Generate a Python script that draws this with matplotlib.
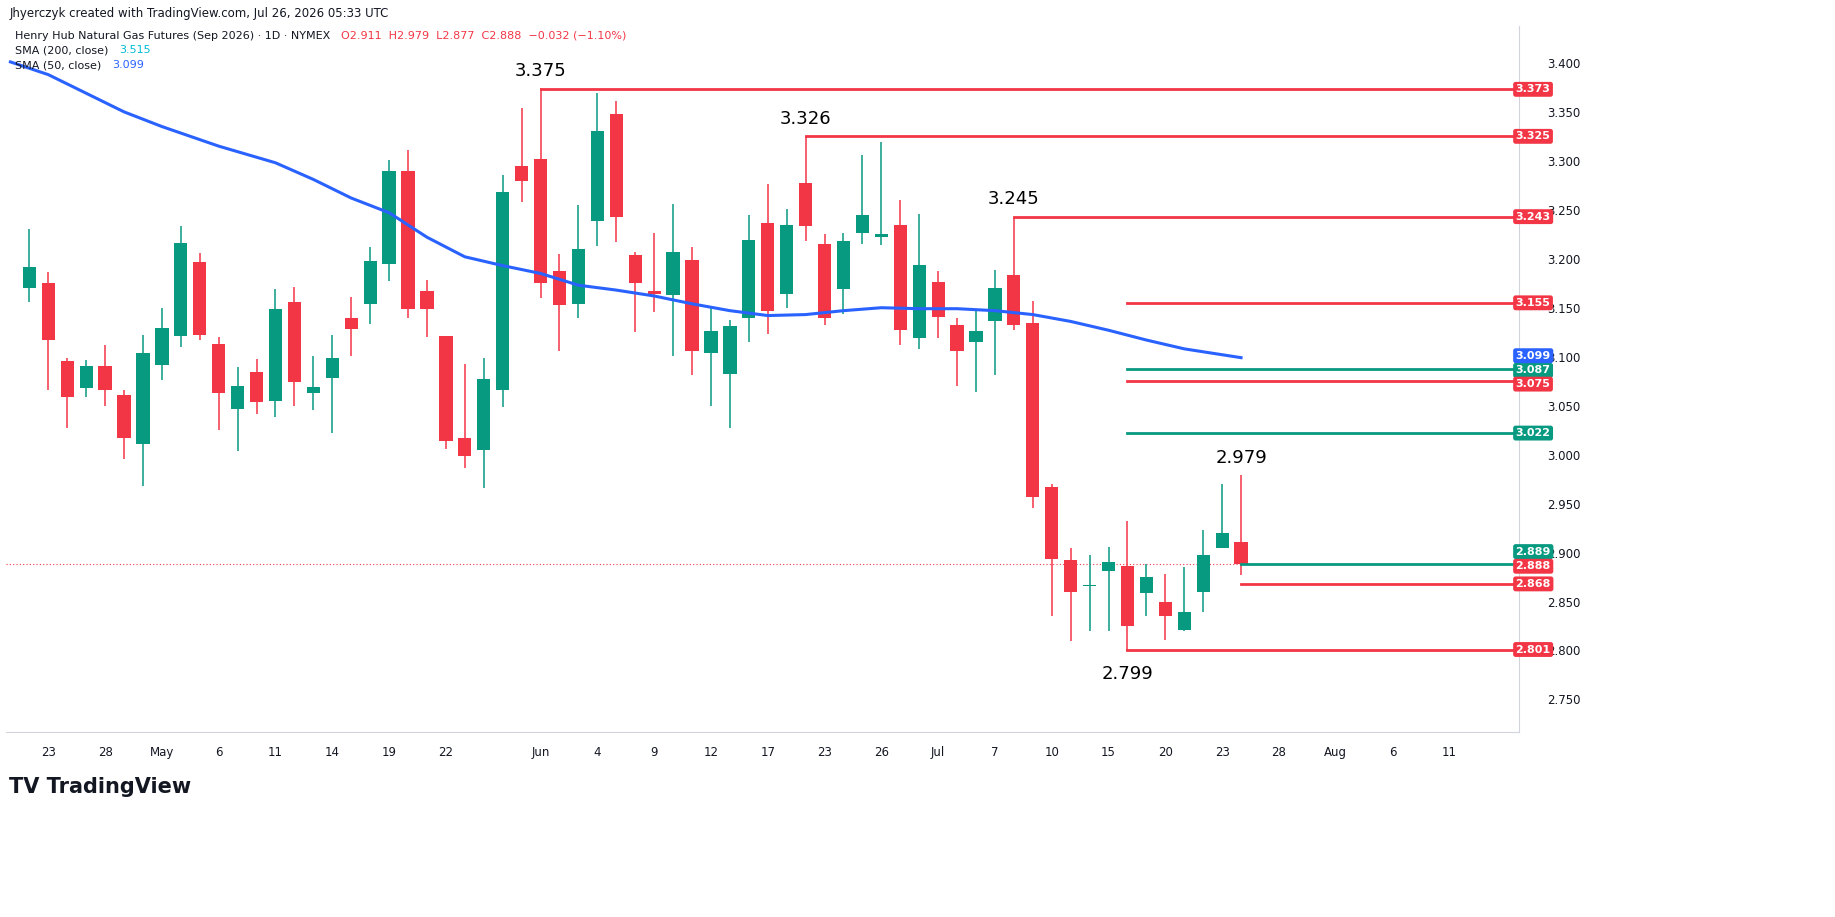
import matplotlib
matplotlib.use("Agg")
import matplotlib.pyplot as plt
import matplotlib.transforms as mtransforms
import numpy as np

opens  = [3.170,3.175,3.096,3.068,3.091,3.061,3.011,3.092,3.121,3.197,3.113,3.047,3.084,3.055,3.156,3.063,3.078,3.140,3.154,3.195,
          3.290,3.167,3.121,3.017,3.005,3.066,3.295,3.302,3.188,3.154,3.239,3.348,3.204,3.167,3.163,3.199,3.104,3.082,3.140,3.236,
          3.164,3.277,3.215,3.169,3.226,3.222,3.234,3.119,3.176,3.132,3.115,3.136,3.183,3.134,2.967,2.892,2.866,2.881,2.886,2.859,
          2.850,2.821,2.860,2.905,2.911]
highs  = [3.230,3.186,3.099,3.097,3.112,3.066,3.122,3.150,3.233,3.206,3.120,3.089,3.098,3.169,3.171,3.101,3.122,3.161,3.212,3.301,
          3.311,3.178,3.121,3.093,3.099,3.286,3.354,3.374,3.205,3.255,3.369,3.361,3.207,3.226,3.256,3.212,3.150,3.137,3.245,3.276,
          3.251,3.325,3.225,3.226,3.306,3.319,3.260,3.246,3.187,3.139,3.147,3.189,3.243,3.157,2.970,2.905,2.898,2.906,2.932,2.888,
          2.878,2.885,2.923,2.970,2.979]
lows   = [3.156,3.066,3.027,3.059,3.050,2.996,2.968,3.076,3.110,3.117,3.025,3.004,3.041,3.038,3.050,3.046,3.022,3.101,3.133,3.177,
          3.140,3.120,3.006,2.986,2.966,3.049,3.258,3.160,3.106,3.140,3.213,3.217,3.125,3.146,3.101,3.081,3.050,3.027,3.115,3.123,
          3.150,3.218,3.132,3.144,3.215,3.214,3.112,3.108,3.119,3.070,3.064,3.081,3.127,2.946,2.835,2.810,2.820,2.820,2.799,2.835,
          2.811,2.820,2.839,2.905,2.877]
closes = [3.192,3.117,3.059,3.091,3.066,3.017,3.104,3.129,3.216,3.122,3.063,3.070,3.054,3.149,3.074,3.069,3.099,3.128,3.198,3.290,
          3.149,3.149,3.014,2.999,3.077,3.268,3.279,3.175,3.153,3.210,3.330,3.243,3.175,3.164,3.207,3.106,3.126,3.131,3.219,3.147,
          3.234,3.233,3.140,3.218,3.245,3.225,3.127,3.194,3.141,3.106,3.126,3.170,3.132,2.957,2.893,2.860,2.867,2.890,2.825,2.875,
          2.835,2.839,2.897,2.920,2.888]

sma_idx = [-1,1,3,5,7,10,13,15,17,19,21,23,25,27,29,31,33,35,37,39,41,43,45,47,49,51,53,55,57,59,61,64]
sma_val = [3.401,3.388,3.369,3.350,3.335,3.315,3.298,3.281,3.262,3.247,3.222,3.202,3.193,3.185,3.173,3.168,3.162,3.154,3.147,
           3.142,3.143,3.147,3.150,3.149,3.149,3.147,3.143,3.136,3.127,3.117,3.108,3.099]

tick_pos = [1,4,7,10,13,16,19,22,27,30,33,36,39,42,45,48,51,54,57,60,63,66,69,72,75]
tick_lab = ["23","28","May","6","11","14","19","22","Jun","4","9","12","17","23","26","Jul","7","10","15","20","23","28","Aug","6","11"]

hl_price = [3.373,3.325,3.243,3.155,3.087,3.075,3.022,2.888,2.868,2.801]
hl_start = [27,41,52,58,58,58,58,64,64,58]
hl_green = [False,False,False,False,True,False,True,True,False,False]
hl_tag   = ["3.373","3.325","3.243","3.155","3.087","3.075","3.022","2.889","2.868","2.801"]
tag_pos  = [3.373,3.325,3.243,3.155,3.086,3.072,3.022,2.901,2.868,2.801]

notes_txt = ["3.375","3.326","3.245","2.979","2.799"]
notes_x   = [27,41,52,64,58]
notes_y   = [3.374,3.325,3.243,2.979,2.799]

RED, GREEN, BLUE = "#F23645", "#089981", "#2962FF"

fig = plt.figure(figsize=(18.35, 9.17), dpi=100)
ax = fig.add_axes([0.003, 0.202, 0.825, 0.770])
xmin, xmax = -1.26, 78.7
ax.set_xlim(xmin, xmax)
ax.set_ylim(2.717, 3.438)

x = np.arange(len(opens))
for i in x:
    o, h, l, c = opens[i], highs[i], lows[i], closes[i]
    col = GREEN if c >= o else RED
    ax.vlines(i, l, h, color=col, lw=1.1, zorder=2)
    ax.bar(i, max(abs(c - o), 0.0012), bottom=min(o, c), width=0.7, color=col, zorder=3)

ax.plot(sma_idx, sma_val, color=BLUE, lw=2.2, zorder=4)

ax.axhline(closes[-1], color=RED, lw=0.8, ls=(0, (1, 2)), zorder=1)

trans = mtransforms.blended_transform_factory(ax.transAxes, ax.transData)
def tag(y, t, col):
    ax.text(0.9975, y, t, transform=trans, ha="left", va="center", color="white", fontsize=8,
            fontweight="bold", bbox=dict(boxstyle="round,pad=0.22", fc=col, ec="none"), zorder=10, clip_on=False)

for p, s, g, t, tp in zip(hl_price, hl_start, hl_green, hl_tag, tag_pos):
    col = GREEN if g else RED
    ax.plot([s, xmax], [p, p], color=col, lw=2, zorder=5, clip_on=False)
    tag(tp, t, col)
tag(3.101, "3.099", BLUE)
tag(2.886, "2.888", RED)

for t, xi, yi in zip(notes_txt, notes_x, notes_y):
    if t == "2.799":
        ax.annotate(t, (xi, yi), xytext=(0, -10), textcoords="offset points", ha="center", va="top", fontsize=13)
    else:
        ax.annotate(t, (xi, yi), xytext=(0, 6), textcoords="offset points", ha="center", va="bottom", fontsize=13)

ax.yaxis.tick_right()
ax.set_yticks(np.arange(2.75, 3.401, 0.05))
ax.set_yticklabels([f"{v:.3f}" for v in np.arange(2.75, 3.401, 0.05)])
ax.set_xticks(tick_pos)
ax.set_xticklabels(tick_lab)
ax.tick_params(axis="both", length=0, labelsize=8.5, colors="#131722")
ax.tick_params(axis="x", pad=10)
ax.tick_params(axis="y", pad=20)
for s in ["top", "left"]:
    ax.spines[s].set_visible(False)
ax.spines["bottom"].set_color("#d1d4dc")
ax.spines["right"].set_color("#d1d4dc")

fig.text(0.005, 0.985, "Jhyerczyk created with TradingView.com, Jul 26, 2026 05:33 UTC", fontsize=8.5, color="#131722", va="center")
fig.text(0.008, 0.961, "Henry Hub Natural Gas Futures (Sep 2026) · 1D · NYMEX", fontsize=8, color="#131722", va="center")
fig.text(0.186, 0.961, "O2.911  H2.979  L2.877  C2.888  −0.032 (−1.10%)", fontsize=8, color=RED, va="center")
fig.text(0.008, 0.945, "SMA (200, close)", fontsize=8, color="#131722", va="center")
fig.text(0.065, 0.945, "3.515", fontsize=8, color="#00bcd4", va="center")
fig.text(0.008, 0.929, "SMA (50, close)", fontsize=8, color="#131722", va="center")
fig.text(0.061, 0.929, "3.099", fontsize=8, color=BLUE, va="center")
fig.text(0.005, 0.142, "TV TradingView", fontsize=15, fontweight="bold", color="#131722", va="center")

fig.savefig("out.png", dpi=100, facecolor="white")
